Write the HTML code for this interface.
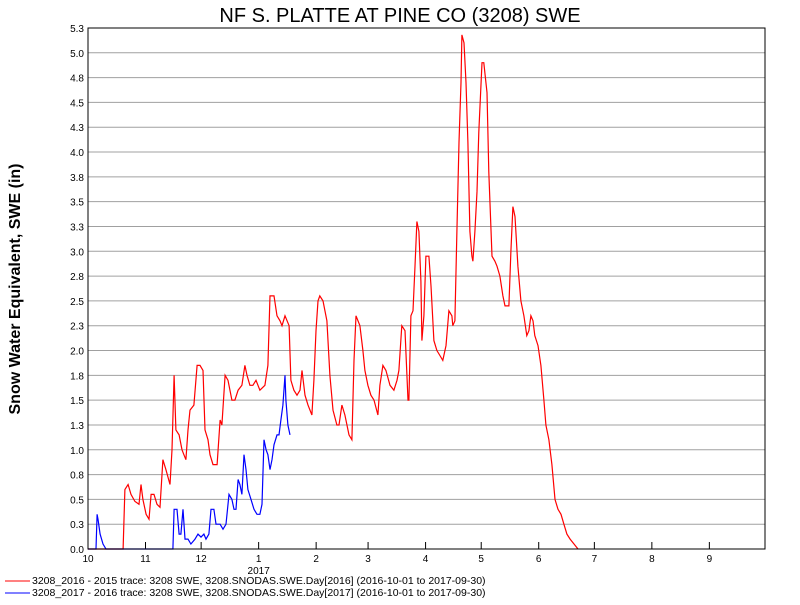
<!DOCTYPE html>
<html><head><meta charset="utf-8"><style>
body{margin:0;background:#fff;width:800px;height:600px;overflow:hidden;font-family:"Liberation Sans",sans-serif}
</style></head><body>
<svg width="800" height="600" xmlns="http://www.w3.org/2000/svg" style="font-family:'Liberation Sans',sans-serif">
<text x="400" y="22" text-anchor="middle" font-size="20">NF S. PLATTE AT PINE CO (3208) SWE</text>
<text transform="translate(20,289) rotate(-90)" text-anchor="middle" font-size="16" font-weight="bold">Snow Water Equivalent, SWE (in)</text>
<g id="grid"></g><g id="yt"></g><g id="xt"></g><g id="series"></g>
<rect x="88" y="28" width="677" height="521" fill="none" stroke="#000"/>
<g font-size="10.5">
<line x1="5" y1="581" x2="30" y2="581" stroke="#f00"/>
<text x="32" y="584">3208_2016 - 2015 trace: 3208 SWE, 3208.SNODAS.SWE.Day[2016] (2016-10-01 to 2017-09-30)</text>
<line x1="5" y1="593" x2="30" y2="593" stroke="#00f"/>
<text x="32" y="596">3208_2017 - 2016 trace: 3208 SWE, 3208.SNODAS.SWE.Day[2017] (2016-10-01 to 2017-09-30)</text>
</g>
</svg>
<script>
const yTicks=["0.0","0.3","0.5","0.8","1.0","1.3","1.5","1.8","2.0","2.3","2.5","2.8","3.0","3.3","3.5","3.8","4.0","4.3","4.5","4.8","5.0","5.3"];
const monthLabels=["10","11","12","1","2","3","4","5","6","7","8","9"];
const monthDays=[0,31,61,92,123,151,182,212,243,273,304,335];
// series as [dayOfWaterYear, SWE inches]
const redSeries=[[0,0],[18.9,0],[19.9,0.6],[21.6,0.65],[23.2,0.55],[25.3,0.48],[27.5,0.45],[28.6,0.65],[29.6,0.5],[31.3,0.35],[32.9,0.3],[34,0.55],[35.6,0.55],[37.2,0.45],[38.8,0.42],[40.4,0.9],[42,0.8],[44.2,0.65],[45.3,1.0],[46.4,1.75],[47.4,1.2],[49.1,1.15],[50.7,1.0],[51.7,0.95],[52.8,0.9],[53.9,1.2],[55,1.4],[57.1,1.45],[58.8,1.85],[60.4,1.85],[62,1.8],[63.1,1.2],[64.7,1.1],[65.8,0.95],[67.4,0.85],[69.6,0.85],[71.2,1.3],[72.2,1.25],[73.9,1.75],[75.5,1.7],[77.6,1.5],[79.2,1.5],[80.9,1.6],[83,1.65],[84.6,1.85],[85.7,1.75],[87.3,1.65],[88.9,1.65],[90.6,1.7],[92.7,1.6],[95.4,1.65],[97,1.85],[98.1,2.55],[100.3,2.55],[101.9,2.35],[103.5,2.3],[104.6,2.25],[106.2,2.35],[108.4,2.25],[109.4,1.7],[111,1.6],[112.7,1.55],[114.3,1.6],[115.4,1.8],[117,1.55],[118.6,1.45],[120.7,1.35],[121.8,1.7],[122.9,2.2],[124,2.5],[125,2.55],[126.7,2.5],[128.8,2.3],[130.4,1.75],[132.1,1.4],[134.2,1.25],[135.3,1.25],[136.9,1.45],[138.5,1.35],[140.7,1.15],[142.3,1.1],[143.4,1.9],[144.5,2.35],[146.6,2.25],[148.2,2.0],[149.3,1.8],[150.9,1.65],[152.5,1.55],[154.2,1.5],[156.3,1.35],[157.4,1.65],[159,1.85],[160.6,1.8],[162.8,1.65],[164.9,1.6],[166.6,1.7],[167.6,1.8],[169.2,2.25],[170.9,2.2],[172.5,1.5],[173,1.5],[174.1,2.35],[175.2,2.4],[176.3,2.85],[177.3,3.3],[178.4,3.2],[179.5,2.7],[180,2.1],[181.1,2.35],[182.2,2.95],[183.8,2.95],[184.9,2.65],[186.5,2.1],[188.1,2.0],[189.7,1.95],[191.3,1.9],[193,2.05],[194.6,2.4],[196.2,2.35],[196.7,2.25],[197.8,2.3],[198.9,3.2],[200,4.1],[201.1,4.7],[201.6,5.18],[202.7,5.1],[203.8,4.7],[204.8,4.1],[205.9,3.2],[207,2.95],[207.5,2.9],[208.6,3.2],[209.7,3.6],[210.7,4.2],[212.4,4.9],[213.4,4.9],[215.1,4.6],[216.1,3.8],[217.8,2.95],[219.4,2.9],[220.5,2.85],[222.1,2.75],[223.7,2.55],[224.8,2.45],[226.9,2.45],[228,3.0],[229.1,3.45],[230.2,3.35],[231.8,2.85],[233.4,2.5],[235,2.35],[236.6,2.15],[237.7,2.2],[238.8,2.35],[239.9,2.3],[240.9,2.15],[242.6,2.05],[244.2,1.85],[245.8,1.5],[246.9,1.25],[248.5,1.1],[250.1,0.85],[251.8,0.5],[253.4,0.4],[255,0.35],[256.6,0.25],[258.2,0.15],[259.9,0.1],[262,0.05],[264.2,0]];
const blueSeries=[[0,0],[4.3,0],[4.9,0.35],[5.4,0.3],[6.5,0.15],[8.1,0.05],[9.7,0],[45.8,0],[46.4,0.4],[48,0.4],[49.1,0.15],[50.1,0.15],[51.2,0.4],[52.3,0.1],[53.9,0.1],[55.5,0.05],[57.7,0.1],[59.3,0.15],[60.9,0.12],[62.5,0.15],[63.6,0.1],[65.2,0.15],[66.3,0.4],[67.9,0.4],[69,0.25],[71.2,0.25],[72.8,0.2],[74.4,0.25],[76,0.55],[77.6,0.5],[78.7,0.4],[79.8,0.4],[80.9,0.7],[81.9,0.65],[83,0.55],[84.1,0.95],[85.2,0.8],[86.2,0.6],[87.9,0.5],[89.5,0.4],[91.1,0.35],[92.7,0.35],[93.8,0.45],[94.9,1.1],[96,1.0],[97,0.95],[98.1,0.8],[99.2,0.9],[100.3,1.05],[101.9,1.15],[103,1.15],[104,1.3],[105.1,1.45],[106.2,1.75],[106.7,1.5],[107.8,1.25],[108.9,1.15]];
const X0=88,X1=765,Y0=549,Y1=28;
const xs=d=>X0+d*(X1-X0)/365;
const ys=v=>Y0-v*(Y0-Y1)/5.25;
const NS="http://www.w3.org/2000/svg";
function mk(t,a,p){const e=document.createElementNS(NS,t);for(const k in a)e.setAttribute(k,a[k]);p.appendChild(e);return e;}
const grid=document.getElementById('grid'),yt=document.getElementById('yt'),xt=document.getElementById('xt'),ser=document.getElementById('series');
yTicks.forEach((l,i)=>{const y=ys(i*0.25);
 if(i>0){const g=mk('line',{x1:X0,x2:X1,y1:y,y2:y,stroke:'#a0a0a0'},grid);
 
 }
 const t=mk('text',{x:84,y:y+4,'text-anchor':'end','font-size':10},yt);t.textContent=l;
 
 });
monthLabels.forEach((l,i)=>{const x=xs(monthDays[i]);
 const tk=mk('line',{x1:x,x2:x,y1:Y0,y2:Y0-7,stroke:'#000'},xt);
 
 
 const t=mk('text',{x:x,y:562,'text-anchor':'middle','font-size':10},xt);t.textContent=l;
 
 });
const yr=mk('text',{x:xs(92),y:574,'text-anchor':'middle','font-size':10},xt);yr.textContent='2017';


function line(pts,col,name){const p=mk('polyline',{points:pts.map(q=>xs(q[0]).toFixed(1)+','+ys(q[1]).toFixed(1)).join(' '),fill:'none',stroke:col,'stroke-width':1.2},ser);
 
 }
line(redSeries,'#f00','series-2016');
line(blueSeries,'#00f','series-2017');
</script>
</body></html>
